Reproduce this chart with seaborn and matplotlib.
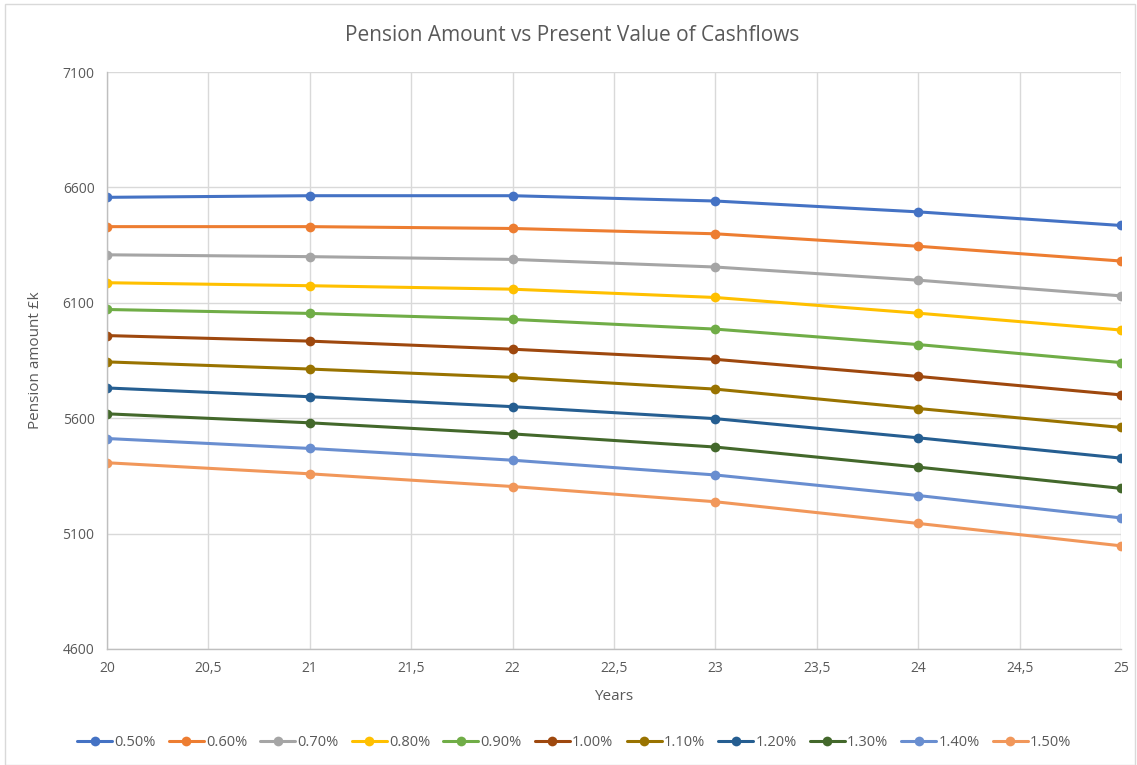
import matplotlib
matplotlib.use("Agg")
import matplotlib.pyplot as plt
from matplotlib.ticker import FuncFormatter, MultipleLocator
from matplotlib.patches import Rectangle
import numpy as np
import pandas as pd
import seaborn as sns

# Discount rates (series) and years (x axis)
rates = ["0.50%", "0.60%", "0.70%", "0.80%", "0.90%", "1.00%",
         "1.10%", "1.20%", "1.30%", "1.40%", "1.50%"]
years = [20, 21, 22, 23, 24, 25]
y_ticks = [4600, 5100, 5600, 6100, 6600, 7100]

# Pension amount (£k) for each rate, one value per year
pv_050 = [6557, 6564, 6564, 6541, 6494, 6435]
pv_060 = [6430, 6430, 6422, 6399, 6345, 6281]
pv_070 = [6308, 6300, 6288, 6255, 6198, 6130]
pv_080 = [6187, 6174, 6159, 6123, 6055, 5982]
pv_090 = [6071, 6054, 6028, 5986, 5919, 5841]
pv_100 = [5958, 5934, 5899, 5855, 5781, 5701]
pv_110 = [5844, 5813, 5777, 5726, 5642, 5560]
pv_120 = [5731, 5693, 5650, 5598, 5515, 5427]
pv_130 = [5619, 5580, 5532, 5475, 5388, 5296]
pv_140 = [5512, 5469, 5418, 5354, 5265, 5168]
pv_150 = [5407, 5359, 5304, 5238, 5144, 5047]

series = [pv_050, pv_060, pv_070, pv_080, pv_090, pv_100,
          pv_110, pv_120, pv_130, pv_140, pv_150]

colors = ["#4472C4", "#ED7D31", "#A5A5A5", "#FFC000", "#70AD47", "#9E480E",
          "#997300", "#255E91", "#43682B", "#698ED0", "#F1975A"]

df = pd.DataFrame(
    [(r, y, v) for r, vals in zip(rates, series) for y, v in zip(years, vals)],
    columns=["Rate", "Years", "Pension"],
)

sns.set_theme(style="white")
plt.rcParams["font.family"] = ["Open Sans", "DejaVu Sans"]

text_col = "#595959"
grid_col = "#D9D9D9"

fig = plt.figure(figsize=(11.37, 7.65), dpi=100)
ax = fig.add_axes([107 / 1137, 1 - 649 / 765, (1121 - 107) / 1137, (649 - 72) / 765])

sns.lineplot(
    data=df, x="Years", y="Pension", hue="Rate", hue_order=rates,
    palette=colors, marker="o", markersize=7, markeredgewidth=0,
    linewidth=2.2, ax=ax, legend=True,
)

ax.set_xlim(20, 25)
ax.set_ylim(y_ticks[0], y_ticks[-1])
ax.xaxis.set_major_locator(MultipleLocator(0.5))
ax.set_yticks(y_ticks)
ax.xaxis.set_major_formatter(FuncFormatter(lambda v, p: f"{v:g}".replace(".", ",")))
ax.yaxis.set_major_formatter(FuncFormatter(lambda v, p: f"{v:.0f}"))

ax.grid(True, color=grid_col, linewidth=1)
ax.set_axisbelow(True)
for side in ["top", "right"]:
    ax.spines[side].set_visible(False)
for side in ["left", "bottom"]:
    ax.spines[side].set_color("#BFBFBF")
    ax.spines[side].set_linewidth(1)

ax.tick_params(axis="both", length=0, labelsize=10, colors=text_col, pad=9)
ax.set_xlabel("Years", fontsize=11, color=text_col, labelpad=9)
ax.set_ylabel("Pension amount £k", fontsize=11, color=text_col, labelpad=14)
fig.suptitle("Pension Amount vs Present Value of Cashflows",
             fontsize=15, color=text_col, x=0.503, y=0.967)

handles, labels = ax.get_legend_handles_labels()
ax.get_legend().remove()
leg = fig.legend(
    handles, labels, loc="center", bbox_to_anchor=(0.505, 0.029),
    ncol=11, frameon=False, fontsize=10.5, handlelength=2.4,
    handletextpad=0.15, columnspacing=0.9,
)
for t in leg.get_texts():
    t.set_color(text_col)

# light outline around the whole chart
fig.patches.append(Rectangle((0.004, 0.0), 0.994, 0.995, transform=fig.transFigure,
                             fill=False, edgecolor="#D9D9D9", linewidth=1))

fig.savefig("out.png", dpi=100, facecolor="white")
